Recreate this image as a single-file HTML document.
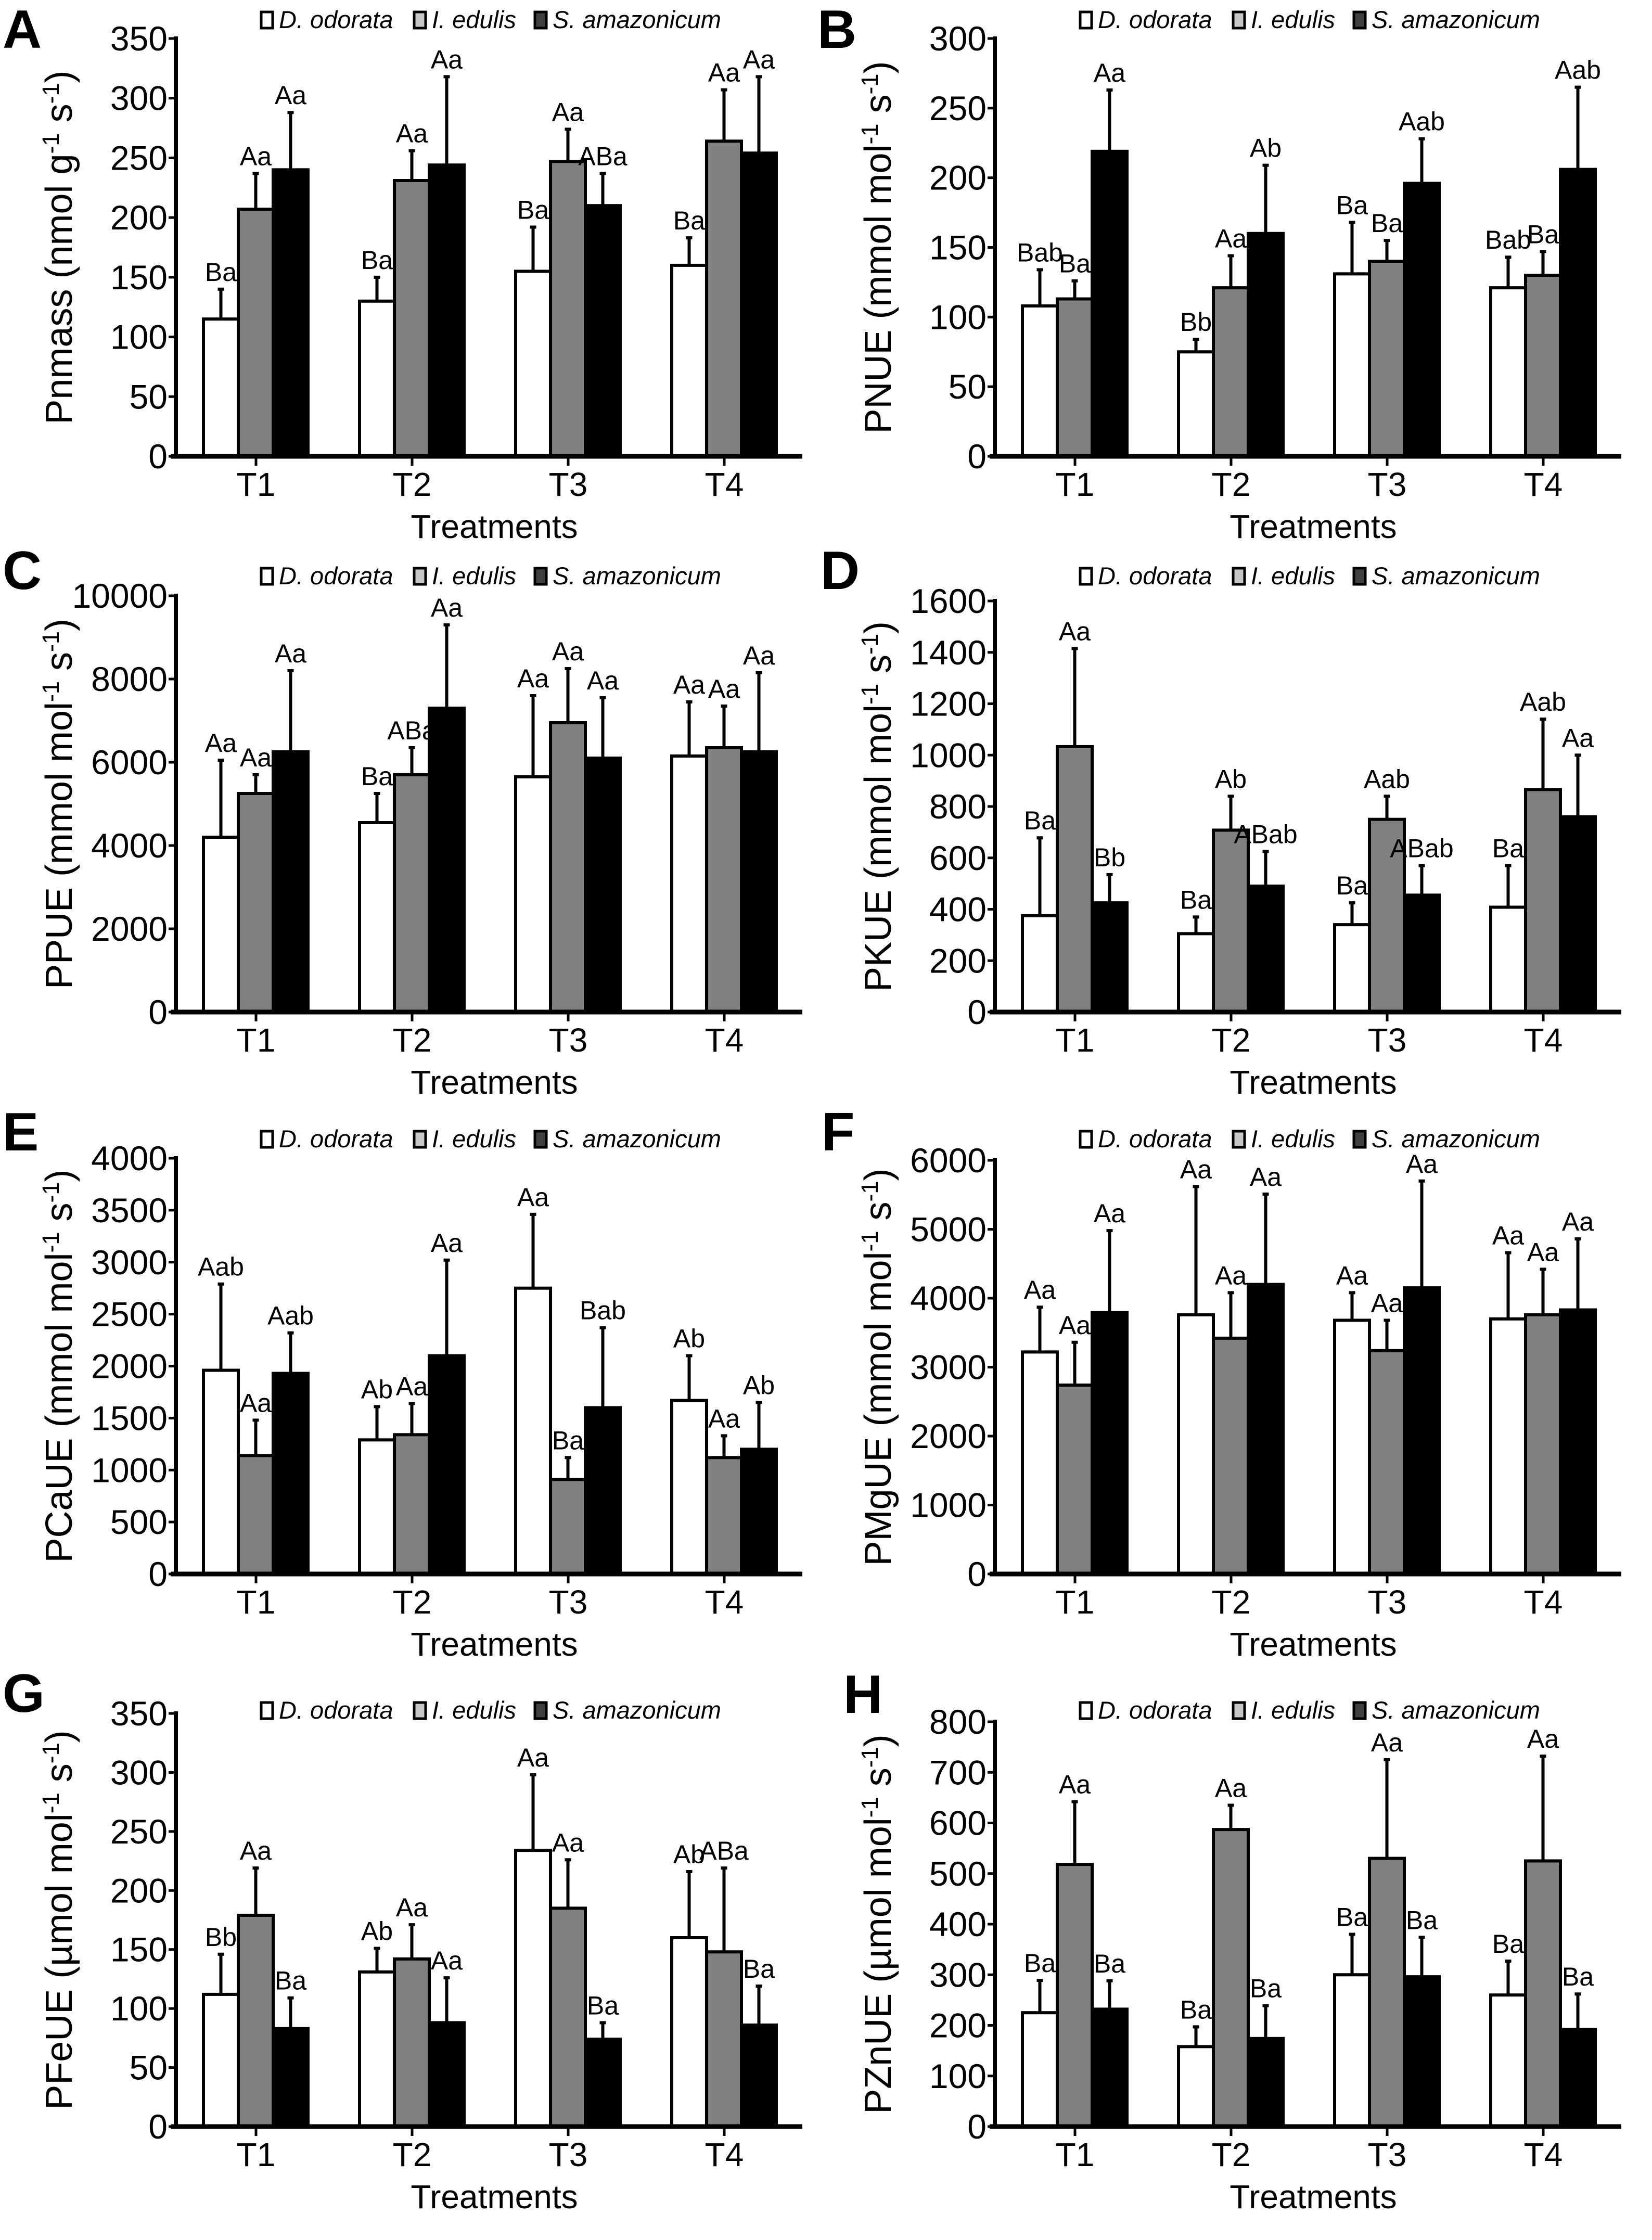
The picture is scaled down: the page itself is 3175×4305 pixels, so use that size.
<!DOCTYPE html>
<html><head><meta charset="utf-8"><style>
html,body{margin:0;padding:0;background:#fff;}
svg{display:block;}
text{font-family:"Liberation Sans",Arial,sans-serif;fill:#000;}
</style></head><body>
<svg id="fig" xmlns="http://www.w3.org/2000/svg" width="3175" height="4305" viewBox="0 0 3175 4305"></svg>
<script>
const treatments = ["T1","T2","T3","T4"];
const seriesNames = ["D. odorata","I. edulis","S. amazonicum"];

const aWhite=[115,130,155,160], aWhiteErr=[140,150,192,183];
const aGray=[207,231,247,264], aGrayErr=[237,256,274,307];
const aBlack=[240,244,210,254], aBlackErr=[288,318,237,318];
const aLabels=[["Ba","Ba","Ba","Ba"],["Aa","Aa","Aa","Aa"],["Aa","Aa","ABa","Aa"]];
const aTicks=[0,50,100,150,200,250,300,350];

const bWhite=[108,75,131,121], bWhiteErr=[134,84,168,143];
const bGray=[113,121,140,130], bGrayErr=[126,144,155,147];
const bBlack=[219,160,196,206], bBlackErr=[263,209,228,265];
const bLabels=[["Bab","Bb","Ba","Bab"],["Ba","Aa","Ba","Ba"],["Aa","Ab","Aab","Aab"]];
const bTicks=[0,50,100,150,200,250,300];

const cWhite=[4200,4550,5650,6150], cWhiteErr=[6050,5250,7600,7450];
const cGray=[5250,5700,6950,6350], cGrayErr=[5700,6350,8250,7350];
const cBlack=[6250,7300,6100,6250], cBlackErr=[8200,9300,7550,8150];
const cLabels=[["Aa","Ba","Aa","Aa"],["Aa","ABa","Aa","Aa"],["Aa","Aa","Aa","Aa"]];
const cTicks=[0,2000,4000,6000,8000,10000];

const dWhite=[375,305,340,408], dWhiteErr=[678,370,425,570];
const dGray=[1033,708,750,866], dGrayErr=[1415,840,840,1140];
const dBlack=[425,490,455,760], dBlackErr=[535,625,570,1000];
const dLabels=[["Ba","Ba","Ba","Ba"],["Aa","Ab","Aab","Aab"],["Bb","ABab","ABab","Aa"]];
const dTicks=[0,200,400,600,800,1000,1200,1400,1600];

const eWhite=[1960,1290,2750,1670], eWhiteErr=[2790,1610,3460,2100];
const eGray=[1140,1340,910,1120], eGrayErr=[1480,1640,1120,1330];
const eBlack=[1930,2100,1600,1200], eBlackErr=[2320,3020,2370,1650];
const eLabels=[["Aab","Ab","Aa","Ab"],["Aa","Aa","Ba","Aa"],["Aab","Aa","Bab","Ab"]];
const eTicks=[0,500,1000,1500,2000,2500,3000,3500,4000];

const fWhite=[3220,3760,3680,3700], fWhiteErr=[3870,5620,4080,4660];
const fGray=[2740,3420,3240,3760], fGrayErr=[3360,4080,3680,4420];
const fBlack=[3790,4200,4150,3830], fBlackErr=[4980,5510,5700,4860];
const fLabels=[["Aa","Aa","Aa","Aa"],["Aa","Aa","Aa","Aa"],["Aa","Aa","Aa","Aa"]];
const fTicks=[0,1000,2000,3000,4000,5000,6000];

const gWhite=[112,131,234,160], gWhiteErr=[146,151,298,216];
const gGray=[179,142,185,148], gGrayErr=[219,171,226,219];
const gBlack=[83,88,74,86], gBlackErr=[109,126,88,119];
const gLabels=[["Bb","Ab","Aa","Ab"],["Aa","Aa","Aa","ABa"],["Ba","Aa","Ba","Ba"]];
const gTicks=[0,50,100,150,200,250,300,350];

const hWhite=[225,158,300,260], hWhiteErr=[289,197,380,327];
const hGray=[518,587,530,525], hGrayErr=[642,635,725,732];
const hBlack=[232,174,296,192], hBlackErr=[288,239,374,262];
const hLabels=[["Ba","Ba","Ba","Ba"],["Aa","Aa","Aa","Aa"],["Ba","Ba","Ba","Ba"]];
const hTicks=[0,100,200,300,400,500,600,700,800];

const NS="http://www.w3.org/2000/svg";
const svg=document.getElementById('fig');
function mk(tag,attrs,parent){const e=document.createElementNS(NS,tag);for(const k in attrs)e.setAttribute(k,attrs[k]);(parent||svg).appendChild(e);return e;}

const panels=[
 {id:"a",letter:"A",lx:5,ly:92,ax:338,zero:877,top:74,ticks:aTicks,legY:54,title:["Pnmass (nmol g","-1"," s","-1",")"],w:aWhite,we:aWhiteErr,g:aGray,ge:aGrayErr,b:aBlack,be:aBlackErr,lab:aLabels},
 {id:"b",letter:"B",lx:1571,ly:92,ax:1912,zero:877,top:74,ticks:bTicks,legY:54,title:["PNUE (mmol mol","-1"," s","-1",")"],w:bWhite,we:bWhiteErr,g:bGray,ge:bGrayErr,b:bBlack,be:bBlackErr,lab:bLabels},
 {id:"c",letter:"C",lx:5,ly:1132,ax:338,zero:1945,top:1145,ticks:cTicks,legY:1123,title:["PPUE (mmol mol","-1"," s","-1",")"],w:cWhite,we:cWhiteErr,g:cGray,ge:cGrayErr,b:cBlack,be:cBlackErr,lab:cLabels},
 {id:"d",letter:"D",lx:1577,ly:1132,ax:1912,zero:1945,top:1155,ticks:dTicks,legY:1123,title:["PKUE (mmol mol","-1"," s","-1",")"],w:dWhite,we:dWhiteErr,g:dGray,ge:dGrayErr,b:dBlack,be:dBlackErr,lab:dLabels},
 {id:"e",letter:"E",lx:5,ly:2211,ax:338,zero:3025,top:2226,ticks:eTicks,legY:2205,title:["PCaUE (mmol mol","-1"," s","-1",")"],w:eWhite,we:eWhiteErr,g:eGray,ge:eGrayErr,b:eBlack,be:eBlackErr,lab:eLabels},
 {id:"f",letter:"F",lx:1579,ly:2211,ax:1912,zero:3025,top:2230,ticks:fTicks,legY:2205,title:["PMgUE (mmol mol","-1"," s","-1",")"],w:fWhite,we:fWhiteErr,g:fGray,ge:fGrayErr,b:fBlack,be:fBlackErr,lab:fLabels},
 {id:"g",letter:"G",lx:5,ly:3290,ax:338,zero:4087,top:3293,ticks:gTicks,legY:3303,title:["PFeUE (\u00b5mol mol","-1"," s","-1",")"],w:gWhite,we:gWhiteErr,g:gGray,ge:gGrayErr,b:gBlack,be:gBlackErr,lab:gLabels},
 {id:"h",letter:"H",lx:1621,ly:3292,ax:1912,zero:4087,top:3309,ticks:hTicks,legY:3303,title:["PZnUE (\u00b5mol mol","-1"," s","-1",")"],w:hWhite,we:hWhiteErr,g:hGray,ge:hGrayErr,b:hBlack,be:hBlackErr,lab:hLabels}
];

const fills=["#ffffff","#808080","#000000"];
const swatchFills=["#ffffff","#c8c8c8","#404040"];

panels.forEach(p=>{
  const G=mk('g',{});
  
  
  const maxV=p.ticks[p.ticks.length-1];
  const y=v=>p.zero-(v/maxV)*(p.zero-p.top);
  const xc=i=>p.ax+154+300*i;
  const axEnd=p.ax+1204;

  const L=mk('text',{x:p.lx,y:p.ly,'font-size':104,'font-weight':'bold'},G);
  L.textContent=p.letter;
  
  

  const lg=mk('g',{},G);
  
  
  let lx=p.ax+164;
  seriesNames.forEach((s,k)=>{
    const sw=mk('rect',{x:lx,y:p.legY-31,width:22,height:31,fill:swatchFills[k],stroke:'#000','stroke-width':5},lg);
    
    
    const t=mk('text',{x:lx+34,y:p.legY,'font-size':47,'font-style':'italic'},lg);
    t.textContent=s;
    
    
    lx+=34+[236,174,0][k]+24;
  });

  const series=[[p.w,p.we],[p.g,p.ge],[p.b,p.be]];
  const offs=[-101,-34,33];
  series.forEach((sr,k)=>{
    sr[0].forEach((v,i)=>{
      const x0=xc(i)+offs[k], bw=67;
      const r=mk('rect',{x:x0,y:y(v),width:bw,height:p.zero-y(v),fill:fills[k],stroke:'#000','stroke-width':6},G);
      
      
      const cx=x0+bw/2, et=y(sr[1][i]);
      const eb=mk('path',{d:`M${cx},${y(v)} V${et} M${cx-6},${et} H${cx+6}`,stroke:'#000','stroke-width':6,fill:'none'},G);
      
      
      const lt=mk('text',{x:cx,y:et-16,'font-size':50,'text-anchor':'middle'},G);
      lt.textContent=p.lab[k][i];
      
      
    });
  });

  const ya=mk('line',{x1:p.ax,y1:p.top-4,x2:p.ax,y2:p.zero,stroke:'#000','stroke-width':8},G);
  
  
  const xa=mk('line',{x1:p.ax-10,y1:p.zero,x2:axEnd,y2:p.zero,stroke:'#000','stroke-width':9},G);
  
  
  p.ticks.forEach(t=>{
    const tk=mk('line',{x1:p.ax-14,y1:y(t),x2:p.ax,y2:y(t),stroke:'#000','stroke-width':5},G);
    
    
    const tl=mk('text',{x:p.ax-16,y:y(t)+23,'font-size':66,'text-anchor':'end'},G);
    tl.textContent=t;
    
    
  });
  treatments.forEach((tr,i)=>{
    const tk=mk('line',{x1:xc(i),y1:p.zero,x2:xc(i),y2:p.zero+18,stroke:'#000','stroke-width':5},G);
    
    
    const tl=mk('text',{x:xc(i),y:p.zero+76,'font-size':64,'text-anchor':'middle'},G);
    tl.textContent=tr;
    
    
  });
  const xt=mk('text',{x:p.ax+612,y:p.zero+157,'font-size':64,'text-anchor':'middle'},G);
  xt.textContent="Treatments";
  
  

  const cy=(p.zero+p.top)/2;
  const yt=mk('text',{x:0,y:0,'font-size':72,'text-anchor':'middle',transform:`translate(${p.ax-200},${cy}) rotate(-90)`},G);
  
  
  p.title.forEach((part,j)=>{
    const ts=mk('tspan',{},yt);
    if(j%2===1){ts.setAttribute('baseline-shift','super');ts.setAttribute('font-size','45');}
    ts.textContent=part;
  });
});
</script>
</body></html>
